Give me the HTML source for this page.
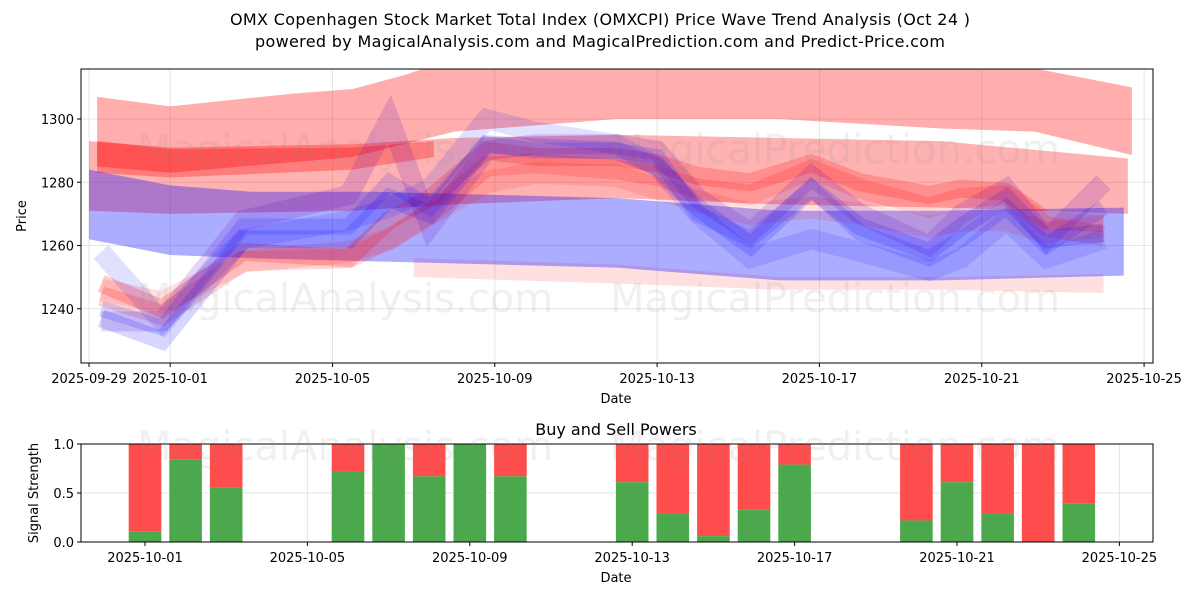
<!DOCTYPE html>
<html><head><meta charset="utf-8">
<style>
body{margin:0;background:#fff;}
svg text{font-family:"DejaVu Sans","Liberation Sans",sans-serif;fill:#000;}
</style></head>
<body>
<svg id="c" width="1200" height="600" xmlns="http://www.w3.org/2000/svg">
<defs>
<clipPath id="topclip"><rect x="81" y="69" width="1072" height="294"/></clipPath>
</defs>
<text x="600" y="25" text-anchor="middle" font-size="16" textLength="740">OMX Copenhagen Stock Market Total Index (OMXCPI) Price Wave Trend Analysis (Oct 24 )</text>
<text x="600" y="47" text-anchor="middle" font-size="16" textLength="690">powered by MagicalAnalysis.com and MagicalPrediction.com and Predict-Price.com</text>
<g id="topg"></g>
<g id="botg"></g>
</svg>
<script>
// ---- data ----
const bandDaysA = [0.2, 2, 5, 6.5, 7.8, 8.5, 20, 23.3, 25.7];
const bandUpperA = [1307, 1304, 1308, 1309.5, 1314, 1317, 1318, 1316, 1310];
const bandDaysA2 = [0.2, 2, 6.5, 9, 13, 17, 21, 23.3, 25.7];
const bandLowerA = [1285, 1283, 1288, 1296, 1300, 1300, 1297, 1296, 1288.6];
const bandDaysB = [0, 2, 6.5, 9, 13, 17, 21, 25.6];
const bandUpperB = [1293, 1291, 1292, 1294, 1295, 1294, 1293, 1287.5];
const bandLowerB = [1271, 1270, 1271, 1273, 1275, 1273, 1272, 1270];
const bandDaysC = [0.2, 2, 6.5, 8.5];
const bandUpperC = [1293, 1290.5, 1291, 1293];
const bandLowerC = [1283, 1281.5, 1284, 1288];
const bandDaysD = [0, 2, 4, 7, 10, 13, 15, 17, 21, 25.5];
const bandUpperD = [1284, 1279, 1277, 1277, 1276, 1275, 1273, 1271, 1271, 1272];
const bandLowerD = [1262, 1257, 1256, 1255, 1254, 1253, 1251, 1249, 1249, 1250.5];
const bandDaysE = [8, 13, 17, 21, 25];
const bandUpperE = [1256, 1254, 1250, 1250, 1251];
const bandLowerE = [1250, 1248, 1246, 1246, 1245];
const waveDays = [0.3,1.8,3.8,6.4,7.4,8.4,9.8,11,13,14,15,16.3,17.8,19,20.7,21.5,22.6,23.6,25];
const wave1 = [1237,1230,1262,1262,1275,1270,1292,1291,1290,1285,1272,1260,1278,1266,1258,1266,1275,1262,1264];
const wave2 = [1248,1240,1258,1256,1268,1275,1290,1288,1288,1286,1282,1280,1286,1280,1276,1278,1277,1268,1267];
const wave3 = [1236,1236,1268,1276,1300,1266,1290,1292,1292,1290,1275,1264,1282,1270,1260,1270,1278,1262,1280];
const wave4 = [1244,1238,1255,1256,1262,1270,1285,1286,1284,1282,1278,1276,1284,1278,1272,1275,1276,1266,1263];
const wave5 = [1258,1236,1262,1268,1272,1278,1300,1296,1292,1285,1270,1256,1262,1258,1252,1256,1268,1256,1262];
const wave6 = [1246,1242,1255,1258,1262,1270,1280,1283,1282,1278,1274,1270,1272,1270,1266,1268,1268,1264,1266];
const wave7 = [1240,1234,1266,1266,1280,1272,1292,1290,1290,1288,1270,1262,1278,1264,1256,1262,1272,1260,1272];
const priceTicks = [1240, 1260, 1280, 1300];
const dateTickDays = [0, 2, 6, 10, 14, 18, 22, 26];
const dateTickLabels = ["2025-09-29","2025-10-01","2025-10-05","2025-10-09","2025-10-13","2025-10-17","2025-10-21","2025-10-25"];
const barDays = [0,1,2,5,6,7,8,9,12,13,14,15,16,19,20,21,22,23];
const buyPower = [0.11,0.84,0.56,0.72,1.0,0.67,1.0,0.67,0.61,0.29,0.06,0.33,0.79,0.22,0.61,0.29,0.0,0.39];
const botTickDays = [0,4,8,12,16,20,24];
const botTickLabels = ["2025-10-01","2025-10-05","2025-10-09","2025-10-13","2025-10-17","2025-10-21","2025-10-25"];
const sigTicks = [0, 0.5, 1.0];
const sigTickLabels = ["0.0","0.5","1.0"];

const NS = "http://www.w3.org/2000/svg";
function mk(tag, attrs, parent){const e=document.createElementNS(NS,tag);for(const k in attrs)e.setAttribute(k,attrs[k]);parent.appendChild(e);return e;}
const X = d => 89 + d*40.58;
const Y = p => 119 + (1300-p)*3.163;
const BX = d => 145 + d*40.6;
const BY = v => 542 - v*98;
const topG = document.getElementById('topg'), botG = document.getElementById('botg');

dateTickDays.forEach(d=>{const l=mk('line',{x1:X(d),x2:X(d),y1:69,y2:363,stroke:'#e6e6e6','stroke-width':1},topG);

});
priceTicks.forEach(p=>{const l=mk('line',{x1:81,x2:1153,y1:Y(p),y2:Y(p),stroke:'#e6e6e6','stroke-width':1},topG);

});

const g = mk('g',{'clip-path':'url(#topclip)'},topG);
function band(du,up,dl,lo,color,op,name){
  const pts=du.map((d,i)=>X(d)+','+Y(up[i]));
  for(let i=dl.length-1;i>=0;i--)pts.push(X(dl[i])+','+Y(lo[i]));
  const e=mk('polygon',{points:pts.join(' '),fill:color,'fill-opacity':op},g);
  
  
}
band(bandDaysA,bandUpperA,bandDaysA2,bandLowerA,'#ff0000',0.32,'upper-red-band');
band(bandDaysB,bandUpperB,bandDaysB,bandLowerB,'#ff0000',0.3,'middle-red-band');
band(bandDaysC,bandUpperC,bandDaysC,bandLowerC,'#ff0000',0.3,'core-red-band');
band(bandDaysE,bandUpperE,bandDaysE,bandLowerE,'#ff0000',0.12,'lower-red-band');
band(bandDaysD,bandUpperD,bandDaysD,bandLowerD,'#0000ff',0.32,'blue-band');
function wave(vals,color,op,w,name){
  const pts=waveDays.map((d,i)=>X(d)+','+Y(vals[i])).join(' ');
  const e=mk('polyline',{points:pts,fill:'none',stroke:color,'stroke-opacity':op,'stroke-width':w,'stroke-linejoin':'miter'},g);
  
  
}
wave(wave6,'#ff0000',0.12,22,'wave-red-pale');
wave(wave4,'#ff0000',0.16,20,'wave-red-2');
wave(wave2,'#ff0000',0.2,18,'wave-red-1');
wave(wave5,'#0000ff',0.12,20,'wave-blue-pale');
wave(wave1,'#0000ff',0.16,18,'wave-blue-1');
wave(wave3,'#6000c0',0.16,20,'wave-purple');
wave(wave7,'#0000ff',0.14,16,'wave-blue-2');

[[345,163,'MagicalAnalysis.com'],[835,163,'MagicalPrediction.com'],[345,312,'MagicalAnalysis.com'],[835,312,'MagicalPrediction.com'],[345,460,'MagicalAnalysis.com'],[835,460,'MagicalPrediction.com']].forEach(w=>{
  const t=mk('text',{x:w[0],y:w[1],'text-anchor':'middle','font-size':40,style:'fill:#888;fill-opacity:0.13'},document.getElementById('c'));
  t.textContent=w[2];
  
  
});

const f1=mk('rect',{x:81,y:69,width:1072,height:294,fill:'none',stroke:'#000','stroke-width':1},topG);


priceTicks.forEach(p=>{mk('line',{x1:77,x2:81,y1:Y(p),y2:Y(p),stroke:'#000'},topG);
  const t=mk('text',{x:74,y:Y(p)+5,'text-anchor':'end','font-size':13},topG);t.textContent=p;
  
  });
dateTickDays.forEach((d,i)=>{mk('line',{x1:X(d),x2:X(d),y1:363,y2:367,stroke:'#000'},topG);
  const t=mk('text',{x:X(d),y:383,'text-anchor':'middle','font-size':13},topG);t.textContent=dateTickLabels[i];
  
  });
let t=mk('text',{x:616,y:403,'text-anchor':'middle','font-size':13},topG);t.textContent='Date';


t=mk('text',{x:0,y:0,'text-anchor':'middle','font-size':13,transform:'translate(26,216) rotate(-90)'},topG);t.textContent='Price';



botTickDays.forEach(d=>{const l=mk('line',{x1:BX(d),x2:BX(d),y1:444,y2:542,stroke:'#e6e6e6'},botG);

});
sigTicks.forEach(v=>{const l=mk('line',{x1:81,x2:1153,y1:BY(v),y2:BY(v),stroke:'#e6e6e6'},botG);

});
barDays.forEach((d,i)=>{
  const x=BX(d)-16.3, b=buyPower[i];
  const r=mk('rect',{x:x,y:BY(1),width:32.6,height:BY(b)-BY(1),fill:'#ff4c4c'},botG);
  
  
  const gr=mk('rect',{x:x,y:BY(b),width:32.6,height:BY(0)-BY(b),fill:'#4ca84c'},botG);
  
  
});
const f2=mk('rect',{x:81,y:444,width:1072,height:98,fill:'none',stroke:'#000'},botG);


sigTicks.forEach((v,i)=>{mk('line',{x1:77,x2:81,y1:BY(v),y2:BY(v),stroke:'#000'},botG);
  const t=mk('text',{x:74,y:BY(v)+5,'text-anchor':'end','font-size':13},botG);t.textContent=sigTickLabels[i];
  
  });
botTickDays.forEach((d,i)=>{mk('line',{x1:BX(d),x2:BX(d),y1:542,y2:546,stroke:'#000'},botG);
  const t=mk('text',{x:BX(d),y:562,'text-anchor':'middle','font-size':13},botG);t.textContent=botTickLabels[i];
  
  });
t=mk('text',{x:616,y:435,'text-anchor':'middle','font-size':16},botG);t.textContent='Buy and Sell Powers';


t=mk('text',{x:616,y:582,'text-anchor':'middle','font-size':13},botG);t.textContent='Date';


t=mk('text',{x:0,y:0,'text-anchor':'middle','font-size':13,transform:'translate(38,493) rotate(-90)'},botG);t.textContent='Signal Strength';


</script>
</body></html>
